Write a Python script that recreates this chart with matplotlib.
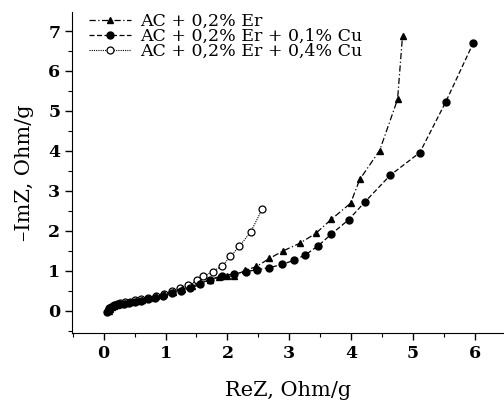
import matplotlib
matplotlib.use("Agg")
import matplotlib.pyplot as plt
from matplotlib.ticker import MultipleLocator

plt.rcParams['font.family'] = ['DejaVu Serif']

# AC + 0,2% Er  (triangles)
er_x = [0.08, 0.10, 0.13, 0.17, 0.22, 0.28, 0.35, 0.43, 0.52, 0.62, 0.73, 0.85,
        0.98, 1.12, 1.27, 1.42, 1.56, 1.72, 1.87, 2.00, 2.10, 2.29, 2.47, 2.68,
        2.90, 3.17, 3.43, 3.68, 3.99, 4.14, 4.46, 4.75, 4.83]
er_y = [0.00, 0.05, 0.09, 0.12, 0.15, 0.17, 0.19, 0.21, 0.24, 0.27, 0.31, 0.36,
        0.41, 0.47, 0.54, 0.61, 0.69, 0.78, 0.84, 0.86, 0.88, 1.01, 1.11, 1.31,
        1.50, 1.69, 1.94, 2.29, 2.69, 3.29, 4.01, 5.29, 6.88]

# AC + 0,2% Er + 0,1% Cu  (filled circles)
cu1_x = [0.06, 0.08, 0.11, 0.15, 0.20, 0.26, 0.33, 0.41, 0.50, 0.60, 0.71, 0.83,
         0.96, 1.10, 1.25, 1.40, 1.56, 1.72, 1.91, 2.10, 2.30, 2.48, 2.68, 2.88,
         3.07, 3.26, 3.47, 3.68, 3.96, 4.22, 4.63, 5.11, 5.53, 5.97]
cu1_y = [-0.02, 0.04, 0.08, 0.11, 0.14, 0.16, 0.18, 0.20, 0.22, 0.25, 0.29, 0.33,
         0.38, 0.44, 0.50, 0.57, 0.66, 0.78, 0.88, 0.92, 0.98, 1.03, 1.08, 1.16,
         1.26, 1.40, 1.63, 1.92, 2.28, 2.72, 3.39, 3.96, 5.23, 6.69]

# AC + 0,2% Er + 0,4% Cu  (open circles)
cu4_x = [0.07, 0.09, 0.12, 0.16, 0.21, 0.27, 0.34, 0.42, 0.51, 0.61, 0.72, 0.84,
         0.97, 1.10, 1.24, 1.37, 1.51, 1.61, 1.76, 1.92, 2.05, 2.19, 2.38, 2.56]
cu4_y = [0.00, 0.06, 0.10, 0.14, 0.17, 0.19, 0.21, 0.23, 0.26, 0.29, 0.33, 0.38,
         0.43, 0.49, 0.58, 0.64, 0.76, 0.86, 0.98, 1.13, 1.36, 1.61, 1.98, 2.54]

labels = ['AC + 0,2% Er', 'AC + 0,2% Er + 0,1% Cu', 'AC + 0,2% Er + 0,4% Cu']

fig = plt.figure(figsize=(5.04, 4.01), dpi=100)
ax = fig.add_axes([0.143, 0.170, 0.857, 0.800])

ax.plot(cu4_x, cu4_y, linestyle=(0, (1, 1)), color='black', lw=0.8,
        marker='o', mfc='white', mec='black', ms=5, mew=0.9, label=labels[2])
ax.plot(cu1_x, cu1_y, linestyle=(0, (4, 2)), color='black', lw=0.9,
        marker='o', mfc='black', mec='black', ms=5, label=labels[1])
ax.plot(er_x, er_y, linestyle=(0, (5, 2, 1, 2)), color='black', lw=0.9,
        marker='^', mfc='black', mec='black', ms=5, label=labels[0])

ax.set_xlim(-0.51, 6.47)
ax.set_ylim(-0.55, 7.475)
ax.xaxis.set_major_locator(MultipleLocator(1))
ax.xaxis.set_minor_locator(MultipleLocator(0.5))
ax.yaxis.set_major_locator(MultipleLocator(1))
ax.yaxis.set_minor_locator(MultipleLocator(0.5))
ax.spines['top'].set_visible(False)
ax.spines['right'].set_visible(False)
ax.tick_params(which='major', direction='out', length=5, width=1, labelsize=12.5)
ax.tick_params(which='minor', direction='out', length=3, width=0.8)
for t in ax.get_xticklabels() + ax.get_yticklabels():
    t.set_fontweight('bold')

ax.set_xlabel('ReZ, Ohm/g', fontsize=15, labelpad=14)
ax.set_ylabel('\u2013ImZ, Ohm/g', fontsize=15, labelpad=10)

h, l = ax.get_legend_handles_labels()
ax.legend(h[::-1], l[::-1], loc='upper left', bbox_to_anchor=(0.015, 1.03),
          frameon=False, fontsize=12.5, labelspacing=-0.12, handlelength=2.4,
          handletextpad=0.55, borderaxespad=0.2)

fig.savefig('out.png', dpi=100)
